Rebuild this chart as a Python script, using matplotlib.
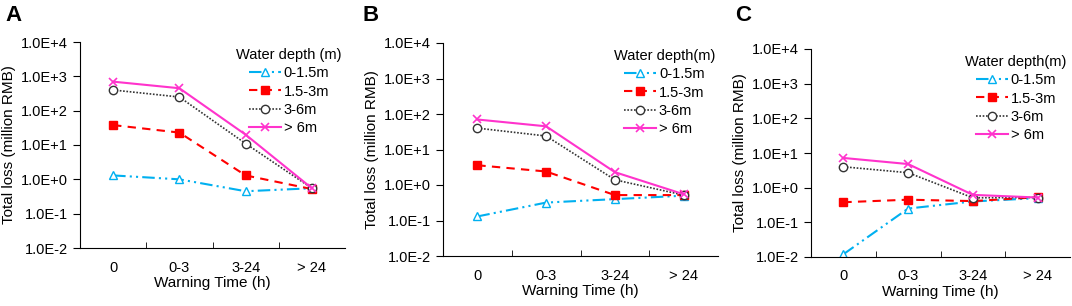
import matplotlib.pyplot as plt
from matplotlib.ticker import FixedLocator, FuncFormatter

plt.rcParams['font.family'] = ['Liberation Sans', 'DejaVu Sans']
plt.rcParams['font.size'] = 10.5

# warning time categories
times = ['0', '0-3', '3-24', '> 24']
depths = ['0-1.5m', '1.5-3m', '3-6m', '> 6m']

# panel A
a_0_15 = [1.3, 1.0, 0.45, 0.55]
a_15_3 = [38, 23, 1.3, 0.52]
a_3_6 = [400, 250, 11, 0.55]
a_6 = [700, 450, 20, 0.55]

# panel B
b_0_15 = [0.13, 0.32, 0.40, 0.50]
b_15_3 = [3.6, 2.4, 0.52, 0.52]
b_3_6 = [40, 24, 1.4, 0.52]
b_6 = [70, 45, 2.3, 0.55]

# panel C
c_0_15 = [0.012, 0.25, 0.40, 0.50]
c_15_3 = [0.38, 0.45, 0.41, 0.53]
c_3_6 = [4.0, 2.7, 0.51, 0.52]
c_6 = [7.2, 4.8, 0.62, 0.52]

panels = [
    ('A', 'Water depth (m)', [a_0_15, a_15_3, a_3_6, a_6]),
    ('B', 'Water depth(m)', [b_0_15, b_15_3, b_3_6, b_6]),
    ('C', 'Water depth(m)', [c_0_15, c_15_3, c_3_6, c_6]),
]

styles = [
    dict(color='#00B0F0', linestyle=(0, (6, 2, 1, 2, 1, 2)), marker='^', mfc='white', mec='#00B0F0', ms=6, lw=1.5),
    dict(color='#FF0000', linestyle=(0, (4, 3)), marker='s', mfc='#FF0000', mec='#FF0000', ms=6, lw=1.5),
    dict(color='#333333', linestyle=(0, (1, 1)), marker='o', mfc='white', mec='#333333', ms=6, lw=1.2),
    dict(color='#FF33CC', linestyle='-', marker='x', ms=6, mew=1.2, lw=1.5),
]

# axes boxes in pixels: left, top, right, bottom
boxes = [(80, 42, 345, 248), (443, 43, 718, 256), (811, 49, 1070, 257)]
letter_x = [5, 362, 735]

W, H = 1072, 306
fig = plt.figure(figsize=(W / 100, H / 100), dpi=100)

def fmt(v, pos):
    s = '%.1E' % v
    mant, ex = s.split('E')
    return '%sE%s%d' % (mant, '+' if int(ex) >= 0 else '-', abs(int(ex)))

for (letter, title, series), (l, t, r, b), lx in zip(panels, boxes, letter_x):
    ax = fig.add_axes([l / W, 1 - b / H, (r - l) / W, (b - t) / H])
    x = range(len(times))
    for vals, name, st in zip(series, depths, styles):
        ax.plot(x, vals, label=name, **st)
    ax.set_yscale('log')
    ax.set_ylim(1e-2, 1e4)
    ax.set_xlim(-0.5, 3.5)
    ax.yaxis.set_major_locator(FixedLocator([1e-2, 1e-1, 1, 1e1, 1e2, 1e3, 1e4]))
    ax.yaxis.set_minor_locator(FixedLocator([]))
    ax.yaxis.set_major_formatter(FuncFormatter(fmt))
    ax.set_xticks(list(x))
    ax.set_xticklabels(times)
    ax.tick_params(axis='x', length=0, pad=9)
    ax.set_xticks([0.5, 1.5, 2.5], minor=True)
    ax.tick_params(axis='x', which='minor', direction='in', length=4)
    ax.tick_params(axis='y', direction='out', length=5)
    for s in ['top', 'right']:
        ax.spines[s].set_visible(False)
    ax.set_xlabel('Warning Time (h)', labelpad=1, fontsize=11)
    ax.set_ylabel('Total loss (million RMB)', fontsize=11)
    ax.legend(title=title, loc='upper right', bbox_to_anchor=(1.01, 1.0), frameon=False,
              handlelength=2.2, handletextpad=0.2, labelspacing=0.3, borderaxespad=0,
              fontsize=10.5, title_fontsize=10.5)
    fig.text(lx / W, 1 - 5 / H, letter, fontsize=16, fontweight='bold', va='top', ha='left')

fig.savefig('out.png', dpi=100)
